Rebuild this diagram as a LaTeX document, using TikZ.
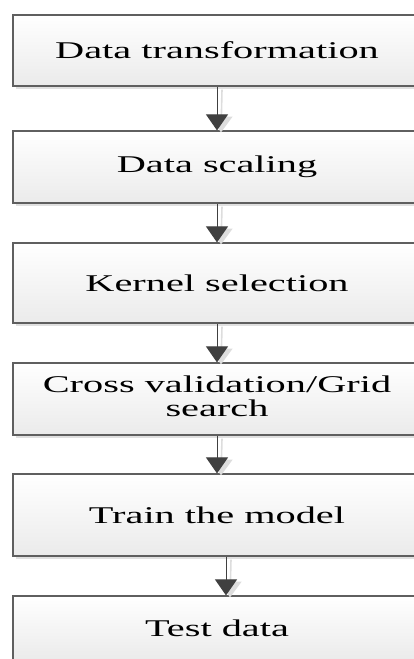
\documentclass[tikz,border=0pt]{standalone}
\usepackage{fontspec}
\setmainfont{Liberation Serif}
\usetikzlibrary{arrows.meta,shadows}
\definecolor{boxline}{HTML}{5F5F5F}
\definecolor{arrowc}{HTML}{404040}
\definecolor{shadowc}{HTML}{DDDDDD}
\newcommand\wtxt[1]{\scalebox{1.68}[1]{#1}}
\tikzset{
  flowbox/.style={draw=boxline, line width=1.2pt, top color=white, bottom color=black!8,
    minimum width=408pt, inner sep=0pt, align=center,
    font=\fontsize{24pt}{25pt}\selectfont,
    drop shadow={shadow xshift=3pt, shadow yshift=-3pt, fill=black!12, opacity=1}},
  flowarrow/.style={draw=arrowc, line width=1pt, -{Triangle[width=22pt,length=16pt,fill=arrowc]}},
  shadowarrow/.style={draw=shadowc, line width=1.6pt, -{Triangle[width=22pt,length=16pt,fill=shadowc]}}
}
\begin{document}
\begin{tikzpicture}[x=1pt,y=-1pt]
\useasboundingbox (0,0) rectangle (414,659);
\node[flowbox, minimum height=71pt] (a) at (217,50.5) {\wtxt{Data transformation}};
\node[flowbox, minimum height=72pt] (b) at (217,167) {\wtxt{Data scaling}};
\node[flowbox, minimum height=80pt] (c) at (217,283) {\wtxt{Kernel selection}};
\node[flowbox, minimum height=72pt] (d) at (217,399) {\wtxt{\begin{tabular}{@{}c@{}}Cross validation/Grid\\[-1pt] search\end{tabular}}};
\node[flowbox, minimum height=82pt] (e) at (217,515) {\wtxt{Train the model}};
\node[flowbox, minimum height=64pt] (f) at (217,628) {\wtxt{Test data}};
% shadows of connectors
\foreach \u/\v in {a/b,b/c,c/d,d/e}{
  \draw[shadowarrow] ([xshift=5pt,yshift=-3pt]\u.south) -- ([xshift=4pt,yshift=-2pt]\v.north);
}
\draw[shadowarrow] ([xshift=14pt,yshift=-3pt]e.south) -- ([xshift=13pt,yshift=-2pt]f.north);
% connectors
\foreach \u/\v in {a/b,b/c,c/d,d/e}{
  \draw[flowarrow] (\u.south) -- (\v.north);
}
\draw[flowarrow] ([xshift=9pt]e.south) -- ([xshift=9pt]f.north);
\end{tikzpicture}
\end{document}
